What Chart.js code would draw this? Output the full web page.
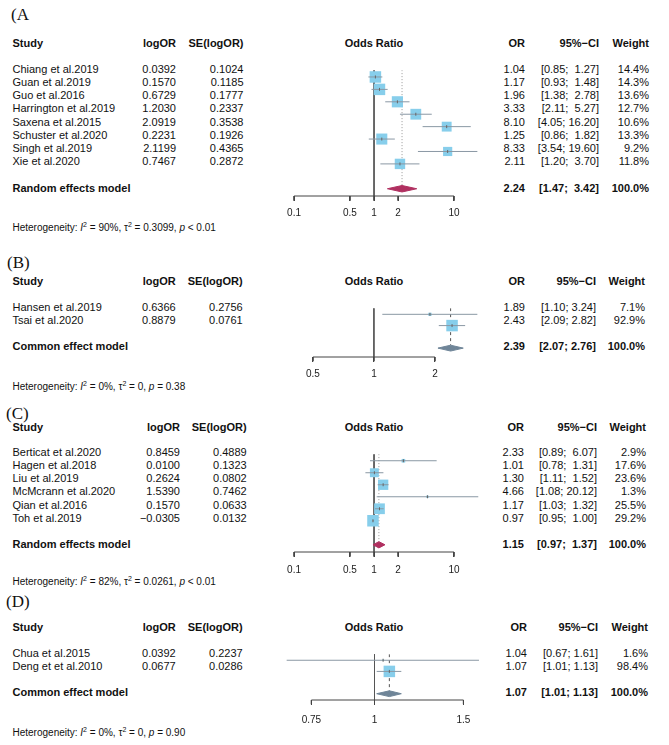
<!DOCTYPE html>
<html>
<head>
<meta charset="utf-8">
<title>Forest plots</title>
<script src="https://cdn.jsdelivr.net/npm/chart.js@4.4.1/dist/chart.umd.min.js"></script>
<style>
  body { margin: 0; background: #fff; }
  #fig { position: relative; width: 669px; height: 745px; overflow: hidden;
         font-family: "Liberation Sans", Arial, sans-serif; color: #111; }
  .t { position: absolute; font-size: 11px; line-height: 13px; white-space: pre; }
  .b { font-weight: bold; }
  .tag { position: absolute; font-family: "Liberation Serif", serif; font-size: 17px; line-height: 20px; }
  .het { position: absolute; font-size: 10px; line-height: 12px; white-space: pre; }
  .het sup { font-size: 7px; position: relative; top: -4px; vertical-align: baseline; }
  canvas { position: absolute; left: 0; }
</style>
</head>
<body>
<div id="fig"></div>
<script>
// ---- (A) ----
const studiesA = ['Chiang et al.2019', 'Guan et al.2019', 'Guo et al.2016', 'Harrington et al.2019',
  'Saxena et al.2015', 'Schuster et al.2020', 'Singh et al.2019', 'Xie et al.2020'];
const logOrA = [0.0392, 0.1570, 0.6729, 1.2030, 2.0919, 0.2231, 2.1199, 0.7467];
const seA = [0.1024, 0.1185, 0.1777, 0.2337, 0.3538, 0.1926, 0.4365, 0.2872];
const orA = [1.04, 1.17, 1.96, 3.33, 8.10, 1.25, 8.33, 2.11];
const ciLowA = [0.85, 0.93, 1.38, 2.11, 4.05, 0.86, 3.54, 1.20];
const ciHighA = [1.27, 1.48, 2.78, 5.27, 16.20, 1.82, 19.60, 3.70];
const weightA = [14.4, 14.3, 13.6, 12.7, 10.6, 13.3, 9.2, 11.8];
const pooledA = [2.24, 1.47, 3.42];
const ticksA = [0.1, 0.5, 1, 2, 10];
const hetA = ['90%', '0.3099', '<', '0.01'];

// ---- (B) ----
const studiesB = ['Hansen et al.2019', 'Tsai et al.2020'];
const logOrB = [0.6366, 0.8879];
const seB = [0.2756, 0.0761];
const orB = [1.89, 2.43];
const ciLowB = [1.10, 2.09];
const ciHighB = [3.24, 2.82];
const weightB = [7.1, 92.9];
const pooledB = [2.39, 2.07, 2.76];
const ticksB = [0.5, 1, 2];
const hetB = ['0%', '0', '=', '0.38'];

// ---- (C) ----
const studiesC = ['Berticat et al.2020', 'Hagen et al.2018', 'Liu et al.2019', 'McMcrann et al.2020',
  'Qian et al.2016', 'Toh et al.2019'];
const logOrC = [0.8459, 0.0100, 0.2624, 1.5390, 0.1570, -0.0305];
const seC = [0.4889, 0.1323, 0.0802, 0.7462, 0.0633, 0.0132];
const orC = [2.33, 1.01, 1.30, 4.66, 1.17, 0.97];
const ciLowC = [0.89, 0.78, 1.11, 1.08, 1.03, 0.95];
const ciHighC = [6.07, 1.31, 1.52, 20.12, 1.32, 1.00];
const weightC = [2.9, 17.6, 23.6, 1.3, 25.5, 29.2];
const pooledC = [1.15, 0.97, 1.37];
const ticksC = [0.1, 0.5, 1, 2, 10];
const hetC = ['82%', '0.0261', '<', '0.01'];

// ---- (D) ----
const studiesD = ['Chua et al.2015', 'Deng et et al.2010'];
const logOrD = [0.0392, 0.0677];
const seD = [0.2237, 0.0286];
const orD = [1.04, 1.07];
const ciLowD = [0.67, 1.01];
const ciHighD = [1.61, 1.13];
const weightD = [1.6, 98.4];
const pooledD = [1.07, 1.01, 1.13];
const ticksD = [0.75, 1, 1.5];
const hetD = ['0%', '0', '=', '0.90'];

const W = 669;
const fig = document.getElementById('fig');

const panels = [
  { tag: '(A', names: studiesA, logOr: logOrA, se: seA, or: orA, lo: ciLowA, hi: ciHighA, w: weightA,
    pooled: pooledA, ticks: ticksA, het: hetA, model: 'Random effects model',
    xMin: 0.05, xMax: 28.2, diamond: '#b03060', refColor: '#999', refDash: [1, 2],
    tagX: 11, tagY: 15, headY: 43, row0: 69, rowH: 13.25, sumRow: 9, axisY: 196, hetY: 228, tickPad: 6,
    cols: [176, 243.5, 525, 599, 649] },
  { tag: '(B)', names: studiesB, logOr: logOrB, se: seB, or: orB, lo: ciLowB, hi: ciHighB, w: weightB,
    pooled: pooledB, ticks: ticksB, het: hetB, model: 'Common effect model',
    xMin: 0.307, xMax: 3.74, diamond: '#6f8598', refColor: '#555', refDash: [3, 3],
    tagX: 7, tagY: 263, headY: 281, row0: 307, rowH: 13.2, sumRow: 3, axisY: 357, hetY: 387, tickPad: 6,
    cols: [175.7, 242.7, 525, 596, 645] },
  { tag: '(C)', names: studiesC, logOr: logOrC, se: seC, or: orC, lo: ciLowC, hi: ciHighC, w: weightC,
    pooled: pooledC, ticks: ticksC, het: hetC, model: 'Random effects model',
    xMin: 0.05, xMax: 28.2, diamond: '#b03060', refColor: '#999', refDash: [1, 2],
    tagX: 6, tagY: 414, headY: 427, row0: 452.8, rowH: 13.05, sumRow: 7, axisY: 552, hetY: 582, tickPad: 7,
    cols: [180, 246.7, 524, 597, 646] },
  { tag: '(D)', names: studiesD, logOr: logOrD, se: seD, or: orD, lo: ciLowD, hi: ciHighD, w: weightD,
    pooled: pooledD, ticks: ticksD, het: hetD, model: 'Common effect model',
    xMin: 0.621, xMax: 1.693, diamond: '#6f8598', refColor: '#555', refDash: [3, 3],
    tagX: 6, tagY: 602, headY: 627.5, row0: 653.3, rowH: 13.1, sumRow: 3, axisY: 700, hetY: 733, tickPad: 9,
    cols: [175.7, 242.7, 527, 598, 648] }
];

function put(text, x, y, cls, align, html) {
  const d = document.createElement('div');
  d.className = cls;
  if (html) d.innerHTML = text; else d.textContent = text;
  d.style.top = (y - 6.5) + 'px';
  if (align === 'right') d.style.right = (W - x) + 'px';
  else if (align === 'center') { d.style.left = (x - 60) + 'px'; d.style.width = '120px'; d.style.textAlign = 'center'; }
  else d.style.left = x + 'px';
  fig.appendChild(d);
  return d;
}

const num = (v, n) => (v < 0 ? '\u2212' : '') + Math.abs(v).toFixed(n);

panels.forEach(p => {
  const rowY = i => p.row0 + i * p.rowH;
  const hiLen = Math.max(...p.hi.map(v => v.toFixed(2).length), p.pooled[2].toFixed(2).length);
  const ci = (lo, hi) => '[' + lo.toFixed(2) + '; ' + hi.toFixed(2).padStart(hiLen) + ']';

  // text table
  const tag = document.createElement('div');
  tag.className = 'tag';
  tag.textContent = p.tag;
  tag.style.left = p.tagX + 'px';
  tag.style.top = (p.tagY - 10) + 'px';
  fig.appendChild(tag);

  put('Study', 12.5, p.headY, 't b');
  put('logOR', p.cols[0], p.headY, 't b', 'right');
  put('SE(logOR)', p.cols[1], p.headY, 't b', 'right');
  put('Odds Ratio', 374, p.headY, 't b', 'center');
  put('OR', p.cols[2], p.headY, 't b', 'right');
  put('95%\u2212CI', p.cols[3], p.headY, 't b', 'right');
  put('Weight', p.cols[4], p.headY, 't b', 'right');

  p.names.forEach((n, i) => {
    const y = rowY(i);
    put(n, 12.5, y, 't');
    put(num(p.logOr[i], 4), p.cols[0], y, 't', 'right');
    put(num(p.se[i], 4), p.cols[1], y, 't', 'right');
    put(num(p.or[i], 2), p.cols[2], y, 't', 'right');
    put(ci(p.lo[i], p.hi[i]), p.cols[3], y, 't', 'right');
    put(p.w[i].toFixed(1) + '%', p.cols[4], y, 't', 'right');
  });

  const sy = rowY(p.sumRow);
  put(p.model, 12.5, sy, 't b');
  put(num(p.pooled[0], 2), p.cols[2], sy, 't b', 'right');
  put(ci(p.pooled[1], p.pooled[2]), p.cols[3], sy, 't b', 'right');
  put('100.0%', p.cols[4], sy, 't b', 'right');

  const h = p.het;
  const het = put('Heterogeneity: <i>I</i><sup>2</sup> = ' + h[0] + ', \u03c4<sup>2</sup> = ' + h[1] +
    ', <i>p</i> ' + (h[2] === '<' ? '&lt;' : '=') + ' ' + h[3], 12.5, p.hetY, 'het', 'left', true);
  het.style.top = (p.hetY - 6) + 'px';

  // forest plot canvas
  const yTop = -0.55;
  const yMax = (p.axisY - p.row0) / p.rowH;
  const canvasTop = p.row0 + yTop * p.rowH;
  const scaleH = 26;
  const H = Math.round(p.axisY - canvasTop + scaleH);
  const cv = document.createElement('canvas');
  cv.width = W; cv.height = H;
  cv.style.width = W + 'px'; cv.style.height = H + 'px';
  cv.style.top = canvasTop + 'px';
  fig.appendChild(cv);

  const wMax = Math.max(...p.w);
  const side = p.w.map(v => 11.5 * Math.sqrt(v / wMax));
  const pts = p.or.map((v, i) => ({ x: v, y: i }));
  const dh = 0.26;
  const s = p.sumRow;
  const tickDown = 5 / p.rowH;

  const datasets = [];
  // x axis line, from first to last tick
  datasets.push({ type: 'line', data: [{ x: p.ticks[0], y: yMax }, { x: p.ticks[p.ticks.length - 1], y: yMax }],
    borderColor: '#444', borderWidth: 1, pointRadius: 0, order: 0, clip: false });
  // tick marks
  p.ticks.forEach(t => {
    datasets.push({ type: 'line', data: [{ x: t, y: yMax }, { x: t, y: yMax + tickDown }],
      borderColor: '#444', borderWidth: 1, pointRadius: 0, order: 0, clip: false });
  });
  // null effect line
  datasets.push({ type: 'line', data: [{ x: 1, y: yTop }, { x: 1, y: yMax }],
    borderColor: '#555', borderWidth: 1, pointRadius: 0, order: 6 });
  // pooled estimate line
  datasets.push({ type: 'line', data: [{ x: p.pooled[0], y: yTop }, { x: p.pooled[0], y: s - dh }],
    borderColor: p.refColor, borderWidth: 1, borderDash: p.refDash, pointRadius: 0, order: 5 });
  // study squares
  datasets.push({ type: 'scatter', data: pts, pointStyle: 'rect', pointRadius: side.map(v => v / Math.SQRT2),
    backgroundColor: '#87ceeb', borderWidth: 0, order: 4, clip: false });
  // confidence intervals
  p.lo.forEach((lo, i) => {
    datasets.push({ type: 'line', data: [{ x: lo, y: i }, { x: p.hi[i], y: i }],
      borderColor: '#8a98a4', borderWidth: 1, pointRadius: 0, order: 3 });
  });
  // small mark at each estimate
  datasets.push({ type: 'scatter', data: pts, pointStyle: 'line', rotation: 90, pointRadius: 1.5,
    borderColor: '#666', borderWidth: 1, order: 2, clip: false });
  // pooled diamond
  datasets.push({ type: 'line', order: 1, pointRadius: 0, borderWidth: 1,
    borderColor: p.diamond, backgroundColor: p.diamond, fill: 'shape', tension: 0,
    data: [{ x: p.pooled[1], y: s }, { x: p.pooled[0], y: s - dh }, { x: p.pooled[2], y: s },
      { x: p.pooled[0], y: s + dh }, { x: p.pooled[1], y: s }] });

  new Chart(cv, {
    type: 'scatter',
    data: { datasets },
    options: {
      responsive: false,
      animation: false,
      events: [],
      layout: { padding: { left: 270, right: W - 490, top: 0, bottom: 0 } },
      plugins: { legend: { display: false }, tooltip: { enabled: false } },
      scales: {
        x: {
          type: 'logarithmic',
          min: p.xMin,
          max: p.xMax,
          bounds: 'data',
          position: 'bottom',
          afterBuildTicks: axis => { axis.ticks = p.ticks.map(v => ({ value: v })); },
          afterFit: axis => { axis.height = scaleH; },
          grid: { drawOnChartArea: false, drawTicks: true, tickLength: 5, color: '#444' },
          border: { display: false },
          ticks: {
            autoSkip: false, maxRotation: 0, minRotation: 0, padding: p.tickPad,
            color: '#222', font: { family: 'Liberation Sans', size: 10 },
            callback: v => String(v)
          }
        },
        y: { type: 'linear', min: yTop, max: yMax, reverse: true, bounds: 'data', display: false }
      }
    }
  });
});
</script>
</body>
</html>
